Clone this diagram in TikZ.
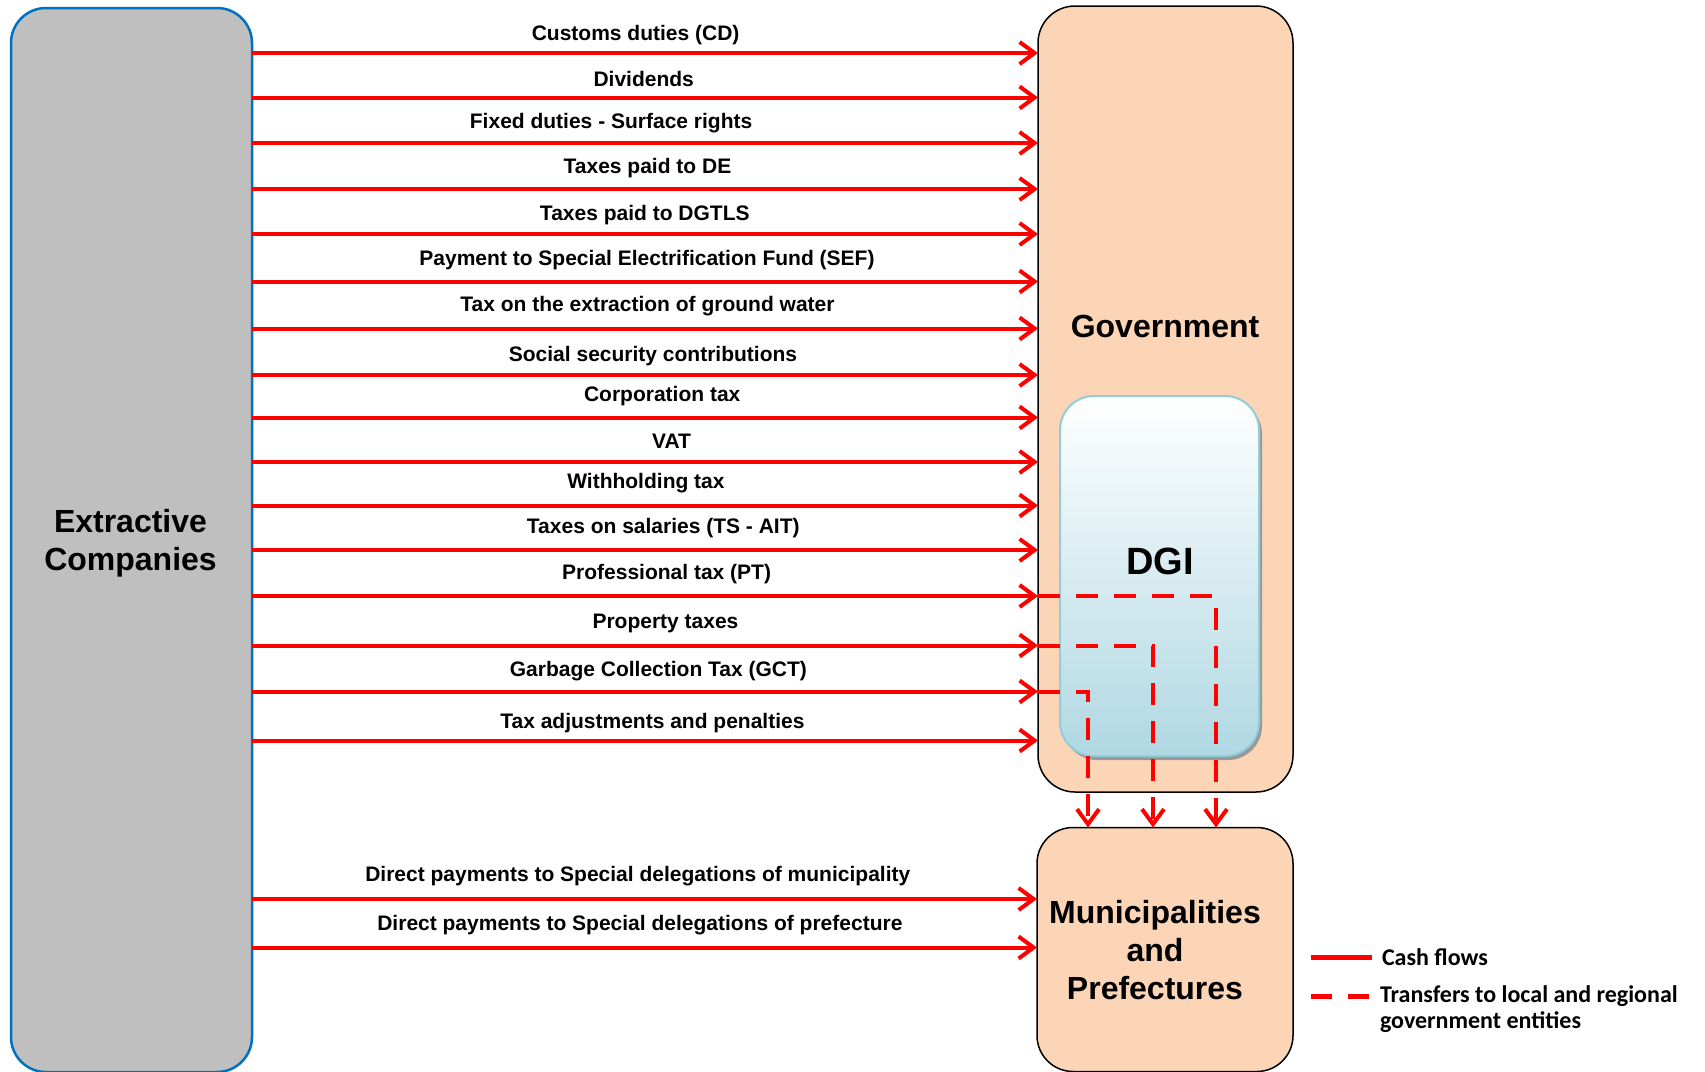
\documentclass[tikz,border=0pt]{standalone}
\usepackage{fontspec}
\setmainfont{Liberation Sans}
\newfontfamily\legendfont{Carlito}
\usetikzlibrary{arrows.meta,shadows}
\definecolor{flowred}{RGB}{255,0,0}
\definecolor{extgray}{RGB}{191,191,191}
\definecolor{extblue}{RGB}{0,112,192}
\definecolor{govpeach}{RGB}{251,213,181}
\definecolor{dgiline}{RGB}{146,205,220}
\definecolor{dgifill}{RGB}{176,216,227}
\tikzset{
  bigtext/.style={font=\bfseries\fontsize{32}{38}\selectfont, align=center},
  lbl/.style={font=\bfseries\fontsize{21}{25}\selectfont},
  legendtext/.style={font=\legendfont\bfseries\fontsize{24}{26}\selectfont, anchor=west, align=left},
  govbox/.style={draw=black, line width=1.5pt, fill=govpeach, rounded corners=37pt},
  cash/.style={draw=flowred, line width=4pt, -{Straight Barb[length=15pt,width=22pt]}},
  transfer/.style={draw=flowred, line width=4pt, dash pattern=on 22pt off 16pt,
    -{Straight Barb[length=15pt,width=22pt]}}
}
\begin{document}
\begin{tikzpicture}[x=1pt, y=-1pt, every node/.style={inner sep=0pt, outer sep=0pt}]
  \useasboundingbox (0,0) rectangle (1705,1071);
  % Boxes
  \node[draw=extblue, line width=2.5pt, fill=extgray, rounded corners=35pt,
        minimum width=241pt, minimum height=1064pt] (ext) at (131.5,540) {};
  \node[bigtext] (extlbl) at (130.5,543) {Extractive\\Companies};
  \node[govbox, minimum width=255pt, minimum height=786pt] (gov) at (1165.5,399) {};
  \node[bigtext] (govlbl) at (1165,326) {Government};
  \node[draw=dgiline, line width=2pt, rounded corners=34pt, top color=white, bottom color=dgifill,
        drop shadow={shadow xshift=3pt, shadow yshift=-4pt, fill=black!40, opacity=1},
        minimum width=199pt, minimum height=360pt] (dgi) at (1159.5,576) {};
  \node[font=\bfseries\fontsize{38}{44}\selectfont] (dgilbl) at (1160,561) {DGI};
  \node[govbox, rounded corners=36pt, minimum width=256pt, minimum height=244pt]
        (mun) at (1165,949.5) {};
  \node[bigtext] (munlbl) at (1155,950) {Municipalities\\and\\Prefectures};
  % Levels of the cash flows
  \coordinate (r1) at (0,53);    \coordinate (r2) at (0,97.5);
  \coordinate (r3) at (0,143);   \coordinate (r4) at (0,189);
  \coordinate (r5) at (0,234);   \coordinate (r6) at (0,281.5);
  \coordinate (r7) at (0,328.5); \coordinate (r8) at (0,375);
  \coordinate (r9) at (0,417.5); \coordinate (r10) at (0,462);
  \coordinate (r11) at (0,505.5);\coordinate (r12) at (0,550);
  \coordinate (r13) at (0,596);  \coordinate (r14) at (0,645.5);
  \coordinate (r15) at (0,691.5);\coordinate (r16) at (0,740.5);
  \coordinate (r17) at (0,899);  \coordinate (r18) at (0,947.5);
  % Cash flows to the government
  \draw[cash] (ext.east |- r1) -- (gov.west |- r1);   \node[lbl] (l1) at (635.6,35.5) {Customs duties (CD)};
  \draw[cash] (ext.east |- r2) -- (gov.west |- r2);   \node[lbl] (l2) at (643.7,78.5) {Dividends};
  \draw[cash] (ext.east |- r3) -- (gov.west |- r3);   \node[lbl] (l3) at (611.1,123.5) {Fixed duties - Surface rights};
  \draw[cash] (ext.east |- r4) -- (gov.west |- r4);   \node[lbl] (l4) at (647.5,168) {Taxes paid to DE};
  \draw[cash] (ext.east |- r5) -- (gov.west |- r5);   \node[lbl] (l5) at (644.8,215.5) {Taxes paid to DGTLS};
  \draw[cash] (ext.east |- r6) -- (gov.west |- r6);   \node[lbl] (l6) at (647,260.5) {Payment to Special Electrification Fund (SEF)};
  \draw[cash] (ext.east |- r7) -- (gov.west |- r7);   \node[lbl] (l7) at (647.5,306) {Tax on the extraction of ground water};
  \draw[cash] (ext.east |- r8) -- (gov.west |- r8);   \node[lbl] (l8) at (653,356) {Social security contributions};
  \draw[cash] (ext.east |- r9) -- (gov.west |- r9);   \node[lbl] (l9) at (662.2,396) {Corporation tax};
  \draw[cash] (ext.east |- r10) -- (gov.west |- r10); \node[lbl] (l10) at (671.5,441.5) {VAT};
  \draw[cash] (ext.east |- r11) -- (gov.west |- r11); \node[lbl] (l11) at (645.9,483) {Withholding tax};
  \draw[cash] (ext.east |- r12) -- (gov.west |- r12); \node[lbl] (l12) at (663.3,528) {Taxes on salaries (TS - AIT)};
  \draw[cash] (ext.east |- r13) -- (gov.west |- r13); \node[lbl] (l13) at (666.6,574.5) {Professional tax (PT)};
  \draw[cash] (ext.east |- r14) -- (gov.west |- r14); \node[lbl] (l14) at (665.5,623.5) {Property taxes};
  \draw[cash] (ext.east |- r15) -- (gov.west |- r15); \node[lbl] (l15) at (658.4,671) {Garbage Collection Tax (GCT)};
  \draw[cash] (ext.east |- r16) -- (gov.west |- r16); \node[lbl] (l16) at (652.4,723.5) {Tax adjustments and penalties};
  % Direct payments to the local entities
  \draw[cash] (ext.east |- r17) -- (mun.west |- r17); \node[lbl] (l17) at (637.8,876) {Direct payments to Special delegations of municipality};
  \draw[cash] (ext.east |- r18) -- (mun.west |- r18); \node[lbl] (l18) at (639.9,925) {Direct payments to Special delegations of prefecture};
  % Transfers through the DGI
  \coordinate (c1) at (1216,0); \coordinate (c2) at (1153,0); \coordinate (c3) at (1088,0);
  \draw[transfer] (gov.west |- r13) -| (c1 |- mun.north);
  \draw[transfer] (gov.west |- r14) -| (c2 |- mun.north);
  \draw[transfer] (gov.west |- r15) -| (c3 |- mun.north);
  % Legend
  \node[legendtext] (cashkey) at (1382,957) {Cash flows};
  \node[legendtext] (transkey) at (1380,1009) {Transfers to local and regional\\government entities};
  \draw[flowred, line width=5pt] ([xshift=-71pt]cashkey.west) -- ([xshift=-10pt]cashkey.west);
  \draw[flowred, line width=5pt, dash pattern=on 21pt off 16pt]
    ([xshift=-69pt, yshift=13pt]transkey.west) -- ([xshift=-11pt, yshift=13pt]transkey.west);
\end{tikzpicture}
\end{document}
